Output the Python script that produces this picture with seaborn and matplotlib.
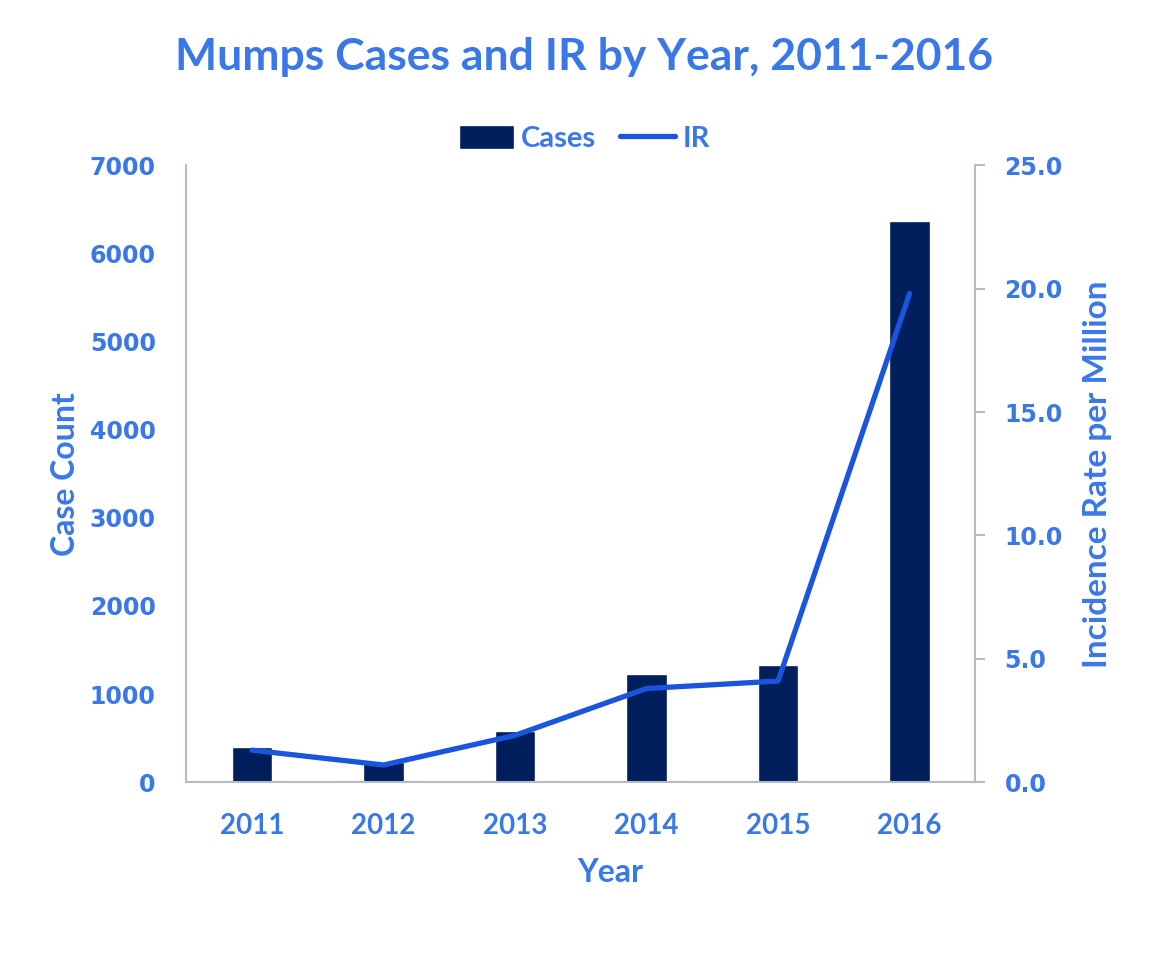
import matplotlib
matplotlib.use("Agg")
import matplotlib.pyplot as plt
import seaborn as sns
import pandas as pd

# data
years = ["2011", "2012", "2013", "2014", "2015", "2016"]
cases = [404, 229, 584, 1223, 1329, 6366]
ir = [1.3, 0.7, 1.9, 3.8, 4.1, 19.8]

df = pd.DataFrame({"Year": years, "Cases": cases, "IR": ir})

sns.set_theme(style="white")
blue_text = "#3a78e8"
bar_col = "#001f5c"
line_col = "#1a56dd"
axis_col = "#b4bac6"

fig = plt.figure(figsize=(11.57, 9.61), dpi=100)
ax = fig.add_axes([0.161, 0.186, 0.682, 0.642])

sns.barplot(data=df, x="Year", y="Cases", color=bar_col, width=0.31,
            saturation=1, ax=ax, label="Cases")
ax.set_ylim(0, 7000)
ax.set_yticks(range(0, 7001, 1000))
ax.set_xlim(-0.5, 5.5)

ax2 = ax.twinx()
sns.pointplot(data=df, x="Year", y="IR", color=line_col, markers="",
              linewidth=3.8, ax=ax2, label="IR")
ax2.set_ylim(0, 25)
ax2.set_yticks([0, 5, 10, 15, 20, 25])
ax2.set_yticklabels([f"{v:.1f}" for v in [0, 5, 10, 15, 20, 25]])
ax2.set_xlim(-0.5, 5.5)

for a in (ax, ax2):
    for s in a.spines.values():
        s.set_visible(False)
ax.spines["left"].set_visible(True)
ax.spines["bottom"].set_visible(True)
ax2.spines["right"].set_visible(True)
for s in (ax.spines["left"], ax.spines["bottom"], ax2.spines["right"]):
    s.set_color(axis_col)
    s.set_linewidth(1.5)

ax.tick_params(axis="y", length=0, pad=22, labelcolor=blue_text)
ax.tick_params(axis="x", length=0, pad=22, labelcolor=blue_text)
ax2.tick_params(axis="y", length=7, width=1.5, color=axis_col, pad=14,
                labelcolor=blue_text)

for lab in ax.get_yticklabels() + ax2.get_yticklabels():
    lab.set_fontfamily("DejaVu Sans")
    lab.set_fontweight("bold")
    lab.set_fontsize(17)
for lab in ax.get_xticklabels():
    lab.set_fontfamily("Lato")
    lab.set_fontweight("bold")
    lab.set_fontsize(20)

ax.set_xlabel("Year", fontsize=23, fontweight="bold", color=blue_text,
              family="Lato")
ax.xaxis.set_label_coords(0.537, -0.122)
ax.set_ylabel("Case Count", fontsize=23, fontweight="bold", color=blue_text,
              family="Lato")
ax.yaxis.set_label_coords(-0.135, 0.5)
ax2.set_ylabel("Incidence Rate per Million", fontsize=24, fontweight="bold",
               color=blue_text, family="Lato")
ax2.yaxis.set_label_coords(1.136, 0.5)

fig.suptitle("Mumps Cases and IR by Year, 2011-2016", x=0.505, y=0.962,
             fontsize=32, fontweight="bold", color=blue_text, family="Lato")

h1, l1 = ax.get_legend_handles_labels()
h2, l2 = ax2.get_legend_handles_labels()
if ax.get_legend():
    ax.get_legend().remove()
if ax2.get_legend():
    ax2.get_legend().remove()
leg = fig.legend(h1 + h2, l1 + l2, loc="center", bbox_to_anchor=(0.505, 0.856),
                 ncol=2, frameon=False, handlelength=1.9, handleheight=0.9,
                 columnspacing=0.8, handletextpad=0.25,
                 prop={"family": "Lato", "weight": "bold", "size": 21})
for t in leg.get_texts():
    t.set_color(blue_text)

fig.savefig("out.png", dpi=100)
